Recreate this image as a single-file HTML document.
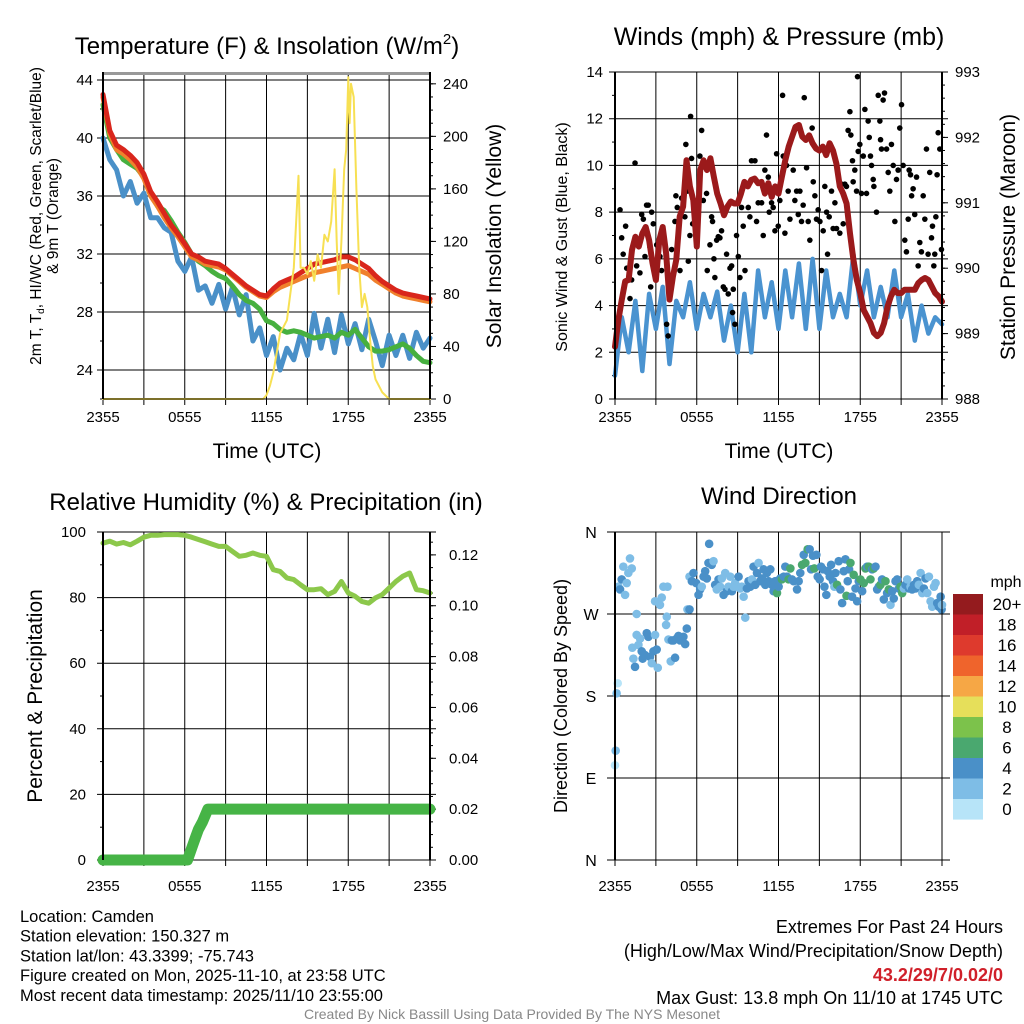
<!DOCTYPE html>
<html><head><meta charset="utf-8">
<style>
html,body{margin:0;padding:0;background:#fff;}
svg{display:block;font-family:"Liberation Sans",Arial,sans-serif;}
</style></head>
<body>
<svg id="fig" width="1024" height="1024" viewBox="0 0 1024 1024" xmlns="http://www.w3.org/2000/svg"></svg>
<script>
// ---------- DATA ----------
const tempRed = [43.0,40.5,39.5,39.2,38.8,38.3,37.5,36.3,35.6,34.8,34.0,33.4,32.7,32.0,31.8,31.5,31.4,31.3,31.0,30.6,30.2,29.8,29.5,29.2,29.1,29.6,30.0,30.2,30.4,30.7,31.0,31.3,31.4,31.5,31.6,31.8,31.8,31.6,31.3,31.0,30.5,30.1,29.8,29.5,29.3,29.2,29.1,29.0,28.9];
const tempOrange = [42.8,40.3,39.2,38.9,38.5,38.0,37.2,36.0,35.3,34.5,33.8,33.2,32.5,31.8,31.6,31.3,31.2,31.1,30.9,30.5,30.1,29.7,29.4,29.1,29.0,29.4,29.7,29.9,30.1,30.3,30.5,30.7,30.8,30.9,31.0,31.1,31.2,31.0,30.8,30.6,30.2,29.9,29.6,29.3,29.1,29.0,28.9,28.8,28.7];
const tempGreen = [42.3,40.0,39.2,38.5,38.2,37.9,37.3,36.2,35.3,35.0,34.3,33.5,32.8,32.0,31.5,31.2,30.8,30.5,30.3,29.8,29.2,28.8,28.6,28.2,27.4,27.2,26.8,26.6,26.7,26.6,26.4,26.2,26.3,26.4,26.2,26.6,26.4,26.8,26.2,25.6,25.3,25.3,25.4,25.6,25.8,25.5,25.0,24.6,24.5];
const tempBlue = [40.0,38.5,37.8,36.0,37.0,35.5,36.2,34.5,34.5,33.8,33.5,31.5,30.8,31.8,29.5,29.8,28.6,29.9,28.2,29.7,27.8,29.2,26.0,26.9,25.0,26.3,24.0,25.5,24.7,26.5,25.0,27.9,25.5,27.5,25.2,27.8,25.8,27.2,25.4,27.5,26.0,24.3,26.4,25.0,26.4,24.8,26.6,25.5,26.2];
const solarTimes = [0,11.75,12,12.25,12.5,12.75,13,13.25,13.5,13.75,14,14.2,14.35,14.5,14.75,15,15.25,15.5,15.75,16,16.25,16.5,16.75,17,17.15,17.3,17.5,17.7,17.85,18,18.1,18.2,18.4,18.6,18.8,19,19.2,19.4,19.6,19.8,20,20.5,21,24];
const solarValues = [0,0,3,10,20,35,50,55,60,80,100,140,170,100,100,95,105,90,110,100,125,120,135,175,120,80,120,175,190,245,210,240,230,160,100,70,80,70,45,25,15,5,0,0];
const tempTicks = [24,28,32,36,40,44];
const solarTicks = [0,40,80,120,160,200,240];
const timeLabels = ["2355","0555","1155","1755","2355"];

const pressure = [988.80,989.21,989.52,989.80,989.82,990.28,990.48,990.33,990.53,990.63,990.43,990.08,989.82,990.43,990.63,990.23,989.52,989.87,990.13,990.79,990.94,991.65,991.25,991.04,990.33,991.50,991.65,991.50,991.68,991.40,991.14,990.99,990.81,990.94,991.02,990.99,990.99,991.14,991.32,991.25,991.35,991.37,991.30,991.32,991.14,991.30,991.09,991.25,991.14,991.40,991.65,991.86,992.01,992.16,992.19,992.01,991.96,992.03,991.91,991.83,991.80,991.86,991.73,991.91,991.80,991.60,991.25,991.14,990.99,990.53,990.13,989.82,989.62,989.36,989.26,989.16,989.01,988.96,989.01,989.16,989.41,989.57,989.67,989.62,989.62,989.67,989.67,989.67,989.67,989.77,989.82,989.85,989.82,989.72,989.62,989.57,989.49];
const windSpeed = [1.0,3.5,2.0,4.2,1.2,4.5,3.0,4.8,1.5,4.2,3.5,5.0,3.0,4.5,3.5,4.6,2.5,4.0,2.0,4.5,2.0,5.5,3.5,5.0,3.0,5.5,3.5,5.8,3.0,6.0,3.0,5.5,3.5,4.5,3.5,6.2,4.0,5.5,3.5,4.8,3.5,5.5,3.5,4.5,2.5,4.0,2.8,3.5,3.2];
const gustTimes = [0.37,0.49,0.6,0.78,0.86,1.1,1.22,1.47,1.59,1.83,1.96,2.08,2.2,2.32,2.44,2.57,2.69,2.62,2.81,3.06,3.3,3.42,3.79,3.9,4.03,4.16,4.4,4.47,4.57,4.77,4.89,5.13,5.2,5.3,5.38,5.5,5.55,5.62,5.7,6.23,6.36,6.48,6.72,6.77,6.97,7.09,7.16,7.26,7.33,7.46,7.58,7.7,7.82,7.95,8.07,8.19,8.31,8.44,8.56,8.68,8.63,8.8,8.92,9.05,9.17,9.29,9.41,9.54,9.78,9.9,10.02,10.27,10.39,10.51,10.76,10.88,11,11.12,11.25,11.32,11.49,11.61,11.74,11.86,11.98,12.1,12.3,12.35,12.47,12.59,12.71,12.84,13.08,13.2,13.33,13.45,13.57,13.69,13.81,13.89,14.06,14.18,14.3,14.47,14.55,14.67,14.79,14.91,15.04,15.16,15.28,15.4,15.53,15.6,15.72,15.89,16.01,16.14,16.26,16.5,16.63,16.75,16.87,16.99,17.11,17.24,17.31,17.43,17.48,17.6,17.73,17.8,17.85,17.97,18.09,18.22,18.34,18.46,18.58,18.66,18.75,18.83,18.95,19,19.19,19.32,19.44,19.49,19.56,19.68,19.78,19.93,20.05,20.17,20.29,20.42,20.54,20.66,20.78,20.9,21.03,21.15,21.27,21.39,21.52,21.59,21.69,21.77,21.88,22,22.13,22.25,22.37,22.49,22.62,22.74,22.86,22.98,23.1,23.23,23.3,23.4,23.47,23.55,23.64,23.72,23.84,23.96];
const gustValues = [8.1,6.9,6.2,7.4,5.6,4.3,5.1,10.1,5.7,5.4,7.9,7.7,6.1,8.3,8.3,6.5,8.0,4.8,7.5,6.6,6.1,5.5,3.2,2.7,4.8,6.4,7.6,8.7,8.2,5.5,8.6,7.8,10.9,8.9,5.9,7.0,12.1,10.3,7.5,10.4,11.5,8.5,8.8,5.5,6.6,7.8,7.6,6.0,5.2,6.8,6.95,6.9,7.2,4.8,4.7,6.2,4.5,5.6,5.7,4.7,3.7,3.2,7.0,6.1,5.2,8.2,7.4,5.5,8.2,7.8,10.2,10.2,7.6,8.4,8.4,7.0,9.8,11.3,9.5,8.0,8.4,8.2,7.2,10.5,7.4,8.5,13.0,10.4,7.1,10.0,8.9,7.7,9.8,8.5,8.9,7.9,8.9,7.6,8.3,12.9,9.9,7.6,6.8,11.6,9.3,8.7,7.7,8.1,7.6,5.5,7.2,9.1,8.0,6.2,7.8,8.9,7.3,8.4,7.3,7.1,9.2,7.5,9.2,9.1,11.5,12.3,11.3,10.2,9.3,9.8,8.9,13.8,10.6,10.9,8.8,10.4,12.4,8.8,11.9,11.2,10.4,10.0,9.4,9.1,8.0,13.0,11.9,11.1,10.7,12.8,13.1,10.7,9.7,8.9,10.9,10.0,7.6,9.4,9.8,11.6,12.6,10.0,6.8,6.3,7.7,9.8,9.6,8.7,9.0,7.9,9.5,5.7,6.7,6.3,8.7,7.7,10.7,6.2,9.7,6.9,7.4,5.7,6.2,7.8,9.6,11.4,10.7,6.4];
const windTicks = [0,2,4,6,8,10,12,14];
const pressTicks = [988,989,990,991,992,993];

const rhValues = [96.6,97.2,96.3,96.8,96.1,97.2,98.4,99.0,99.0,99.2,99.2,99.2,99.0,98.4,97.7,97.0,96.3,95.6,95.6,94.1,92.6,92.9,93.6,92.9,92.6,88.5,88.0,86.0,85.5,83.9,82.4,82.4,82.7,80.9,81.9,84.9,81.4,80.4,78.8,78.3,79.9,80.9,82.9,84.9,86.5,87.5,82.4,82.1,81.4];
const precipTimes = [0,6.2,6.4,6.6,6.8,7.0,7.3,7.7,24];
const precipValues = [0,0,0.003,0.006,0.009,0.012,0.015,0.02,0.02];
const rhTicks = [0,20,40,60,80,100];
const precipTicks = ["0.00","0.02","0.04","0.06","0.08","0.10","0.12"];

const dirTimes = [0,0.05,0.2,0.12,0.25,0.37,0.49,0.61,0.74,0.86,0.98,1.1,1.23,1.47,1.35,1.27,1.59,1.59,1.72,1.84,1.96,2.03,2.2,2.33,2.45,2.57,2.7,2.82,2.94,3.06,3.14,2.94,3.3,3.43,3.55,3.85,3.75,3.8,3.92,4.09,4.17,4.29,4.41,4.53,4.66,4.78,4.9,5.02,5.15,5.27,5.32,5.47,5.47,5.64,5.76,5.96,6.13,6.25,6.37,6.5,6.62,6.74,6.86,6.91,7.1,7.23,7.35,7.47,7.6,7.72,7.84,7.97,8.09,8.21,8.33,8.46,8.58,8.7,8.82,8.95,9.07,9.19,9.31,9.44,9.56,9.68,9.8,9.93,10.05,10.17,10.29,10.42,10.54,10.66,10.78,10.91,11.03,11.15,11.27,11.4,11.52,11.64,11.76,11.89,12.01,12.13,12.25,12.38,12.5,12.62,12.74,12.87,12.99,13.11,13.36,13.48,13.6,13.73,13.85,13.97,14.14,14.29,14.39,14.53,14.63,14.78,14.88,15.02,15.12,15.27,15.37,15.51,15.61,15.76,15.86,16.0,16.1,16.18,16.3,16.42,16.54,16.67,16.79,16.91,16.99,17.08,17.18,17.28,17.4,17.52,17.65,17.77,17.89,18.01,18.14,18.26,18.38,18.5,18.63,18.75,18.87,18.99,19.12,19.24,19.36,19.48,19.6,19.73,19.85,19.97,20.1,20.22,20.34,20.46,20.59,20.71,20.83,20.96,21.08,21.2,21.32,21.45,21.57,21.69,21.81,21.94,22.06,22.18,22.3,22.43,22.55,22.67,22.79,22.92,23.04,23.16,23.28,23.41,23.53,23.65,23.77,23.9,23.97,24];
const dirValues = [104,120,194,183,300,297,308,322,291,304,315,331,320,212,221,233,270,247,236,243,229,221,225,249,245,223,216,229,247,231,211,284,280,288,300,300,258,267,242,218,241,241,222,243,246,241,243,245,237,254,275,275,311,306,315,304,291,297,300,311,317,309,326,347,324,328,302,297,308,300,309,291,315,295,300,311,295,300,304,300,311,298,300,289,266,298,306,300,308,322,302,315,326,306,309,319,302,315,306,319,302,295,306,293,300,309,308,311,322,311,308,320,308,306,297,306,315,324,335,326,341,341,319,334,320,335,311,308,322,319,300,291,317,311,324,306,300,315,302,328,297,282,317,330,290,306,319,326,289,313,298,284,306,308,295,304,320,322,322,308,319,320,322,297,300,302,308,286,306,293,297,280,295,287,306,308,298,300,293,298,302,308,298,300,297,302,298,306,302,315,293,298,309,293,311,284,278,300,304,282,278,289,275,280];
const dirSpeeds = [0.5,2.5,0.5,2.5,2.5,4.5,4.5,2.5,2.5,2.5,2.5,2.5,2.5,4.5,2.5,2.5,2.5,2.5,2.5,2.5,4.5,4.5,4.5,4.5,4.5,4.5,2.5,4.5,2.5,4.5,2.5,2.5,2.5,2.5,2.5,2.5,2.5,2.5,2.5,2.5,4.5,4.5,4.5,4.5,4.5,4.5,4.5,4.5,4.5,4.5,2.5,4.5,2.5,4.5,4.5,4.5,4.5,4.5,2.5,4.5,4.5,4.5,4.5,4.5,4.5,2.5,4.5,2.5,4.5,2.5,2.5,4.5,2.5,4.5,2.5,2.5,4.5,2.5,2.5,2.5,4.5,2.5,2.5,2.5,2.5,4.5,4.5,4.5,2.5,4.5,4.5,4.5,2.5,4.5,4.5,4.5,4.5,4.5,4.5,4.5,4.5,4.5,4.5,6.5,4.5,4.5,6.5,4.5,4.5,4.5,6.5,6.5,4.5,4.5,4.5,4.5,4.5,6.5,4.5,6.5,6.5,4.5,4.5,4.5,6.5,4.5,4.5,4.5,4.5,4.5,4.5,4.5,4.5,4.5,4.5,4.5,2.5,4.5,6.5,4.5,4.5,4.5,4.5,4.5,6.5,4.5,4.5,6.5,4.5,6.5,4.5,4.5,4.5,6.5,4.5,6.5,6.5,4.5,6.5,6.5,4.5,6.5,4.5,4.5,4.5,6.5,4.5,4.5,6.5,4.5,6.5,2.5,4.5,4.5,4.5,4.5,4.5,6.5,6.5,2.5,4.5,2.5,4.5,2.5,4.5,4.5,4.5,4.5,2.5,2.5,2.5,4.5,4.5,2.5,2.5,2.5,2.5,2.5,2.5,4.5,4.5,4.5,4.5,2.5];
const dirTicks = ["N","E","S","W","N"];
const cbLabels = ["20+","18","16","14","12","10","8","6","4","2","0"];
const cbColors = ["#941b1e","#c11f28","#de3a2d","#ef642c","#f6a745","#e6df5a","#7cc24b","#4aa86f","#4a90c8","#7ebde6","#b7e4f8"];

// ---------- HELPERS ----------
const NS="http://www.w3.org/2000/svg";
const svg=document.getElementById('fig');
function mk(tag,attrs,parent,text){const e=document.createElementNS(NS,tag);for(const k in attrs)e.setAttribute(k,attrs[k]);if(text!==undefined)e.textContent=text;(parent||svg).appendChild(e);return e;}
function lin(d0,d1,r0,r1){return v=>r0+(v-d0)*(r1-r0)/(d1-d0);}
function halfTimes(n,step){const a=[];for(let i=0;i<n;i++)a.push(i*step);return a;}
function poly(xs,ys,fx,fy,color,w,parent,name){
  const pts=xs.map((t,i)=>fx(t).toFixed(1)+','+fy(ys[i]).toFixed(1)).join(' ');
  const p=mk('polyline',{points:pts,fill:'none',stroke:color,'stroke-width':w,'stroke-linejoin':'round','stroke-linecap':'round'},parent);
  
  
  return p;
}
function txt(x,y,s,size,anchor,parent,name,extra){
  const t=mk('text',Object.assign({x:x,y:y,'font-size':size,'text-anchor':anchor||'middle',fill:'#000'},extra||{}),parent,s);
  
  
  return t;
}
function frame(g,L,R,T,B,lblDy){
  for(let i=0;i<=8;i++){const x=L+i*(R-L)/8;
    const l=mk('line',{x1:x,x2:x,y1:T,y2:B+6,stroke:'#000','stroke-width':1},g);
    }
  timeLabels.forEach((s,i)=>txt(L+i*(R-L)/4,B+lblDy,s,15,'middle',g,'x-tick-label'));
}
const TX=(L,R)=>lin(0,24,L,R);

// ---------- PANEL 1 ----------
(function(){
  const g=mk('g',{});
  const L=103,R=430,T=72,B=399;
  const fx=TX(L,R), fy=lin(22,44.55,B,T), fs=lin(0,249,B,T);
  txt(267,54,'',24,'middle',g,'temperature-title').innerHTML='Temperature (F) &amp; Insolation (W/m<tspan font-size="15" dy="-10">2</tspan><tspan dy="10">)</tspan>';
  frame(g,L,R,T,B,23);
  tempTicks.forEach(v=>{const y=fy(v);const l=mk('line',{x1:L-6,x2:R,y1:y,y2:y,stroke:'#000','stroke-width':1},g);
    txt(L-10,y+5,String(v),15,'end',g,'y-tick-label');});
  for(let v=22;v<=44;v+=2){const y=fy(v);mk('line',{x1:L-3,x2:L,y1:y,y2:y,stroke:'#000'},g);}
  solarTicks.forEach(v=>{const y=fs(v);mk('line',{x1:R,x2:R+6,y1:y,y2:y,stroke:'#000'},g);txt(R+13,y+5,String(v),15,'start',g,'y2-tick-label');});
  for(let v=0;v<=240;v+=10){const y=fs(v);mk('line',{x1:R,x2:R+3,y1:y,y2:y,stroke:'#000'},g);}
  mk('line',{x1:L,x2:R,y1:73.5,y2:73.5,stroke:'#999','stroke-width':3},g);
  const th=halfTimes(49,0.5);
  poly(th,tempBlue,fx,fy,'#4a90c8',5,g,'wind-chill-line');
  poly(th,tempGreen,fx,fy,'#47b03f',5,g,'dewpoint-line');
  poly(th,tempOrange,fx,fy,'#f0802c',5,g,'9m-temp-line');
  poly(th,tempRed,fx,fy,'#d9261c',5,g,'2m-temp-line');
  poly(solarTimes,solarValues,fx,fs,'#f7e053',2,g,'solar-line');
  mk('line',{x1:L,x2:L,y1:T,y2:B,stroke:'#000','stroke-width':2},g);
  mk('line',{x1:R,x2:R,y1:T,y2:B,stroke:'#000','stroke-width':2},g);
  mk('line',{x1:L,x2:R,y1:B,y2:B,stroke:'#000','stroke-width':1},g);
  txt(267,458,'Time (UTC)',21,'middle',g,'x-axis-title');
  const yt=txt(0,0,'',15.5,'middle',g,'y-axis-title',{transform:'translate(41,216) rotate(-90)'});
  yt.innerHTML='2m T, T<tspan font-size="10" dy="3">d</tspan><tspan dy="-3">, HI/WC (Red, Green, Scarlet/Blue)</tspan>';
  txt(0,0,'& 9m T (Orange)',15.5,'middle',g,'y-axis-title-2',{transform:'translate(58,216) rotate(-90)'});
  txt(0,0,'Solar Insolation (Yellow)',21,'middle',g,'y2-axis-title',{transform:'translate(501,236) rotate(-90)'});
})();

// ---------- PANEL 2 ----------
(function(){
  const g=mk('g',{});
  const L=615,R=942,T=72,B=399;
  const fx=TX(L,R), fy=lin(0,14,B,T), fp=lin(988,993,B,T);
  txt(779,45,'Winds (mph) & Pressure (mb)',25,'middle',g,'winds-title');
  frame(g,L,R,T,B,23);
  windTicks.forEach(v=>{const y=fy(v);mk('line',{x1:L-6,x2:R+6,y1:y,y2:y,stroke:'#000'},g);txt(L-12,y+5,String(v),15,'end',g,'y-tick-label');});
  for(let v=1;v<14;v+=2){const y=fy(v);mk('line',{x1:L-3,x2:L,y1:y,y2:y,stroke:'#000'},g);}
  pressTicks.forEach(v=>{const y=fp(v);mk('line',{x1:R,x2:R+6,y1:y,y2:y,stroke:'#000'},g);txt(R+13,y+5,String(v),15,'start',g,'y2-tick-label');});
  for(let v=988;v<993;v+=0.2){const y=fp(v);mk('line',{x1:R,x2:R+3,y1:y,y2:y,stroke:'#000'},g);}
  poly(halfTimes(49,0.5),windSpeed,fx,fy,'#4a93d0',4.5,g,'wind-speed-line');
  gustTimes.forEach((t,i)=>{const c=mk('circle',{cx:fx(t),cy:fy(gustValues[i]),r:2.8,fill:'#000'},g);
    });
  poly(halfTimes(97,0.25),pressure,fx,fp,'#9b1a1b',6,g,'pressure-line');
  mk('line',{x1:L,x2:L,y1:T,y2:B,stroke:'#000','stroke-width':2},g);
  mk('line',{x1:R,x2:R,y1:T,y2:B,stroke:'#000','stroke-width':2},g);
  txt(779,458,'Time (UTC)',21,'middle',g,'x-axis-title');
  txt(0,0,'Sonic Wind & Gust (Blue, Black)',16,'middle',g,'y-axis-title',{transform:'translate(567,237) rotate(-90)'});
  txt(0,0,'Station Pressure (Maroon)',21,'middle',g,'y2-axis-title',{transform:'translate(1015,237) rotate(-90)'});
})();

// ---------- PANEL 3 ----------
(function(){
  const g=mk('g',{});
  const L=103,R=430,T=532,B=860;
  const fx=TX(L,R), fy=lin(0,100,B,T), fp=lin(0,0.129,B,T);
  txt(266,510,'Relative Humidity (%) & Precipitation (in)',24,'middle',g,'humidity-title');
  frame(g,L,R,T,B,31);
  rhTicks.forEach(v=>{const y=fy(v);mk('line',{x1:L-6,x2:R+6,y1:y,y2:y,stroke:'#000'},g);txt(L-17,y+5,String(v),15,'end',g,'y-tick-label');});
  for(let v=10;v<100;v+=20){const y=fy(v);mk('line',{x1:L-3,x2:L,y1:y,y2:y,stroke:'#000'},g);}
  precipTicks.forEach(s=>{const y=fp(parseFloat(s));mk('line',{x1:R,x2:R+6,y1:y,y2:y,stroke:'#000'},g);txt(R+19,y+5,s,15,'start',g,'y2-tick-label');});
  for(let v=0.005;v<0.129;v+=0.005){const y=fp(v);mk('line',{x1:R,x2:R+3,y1:y,y2:y,stroke:'#000'},g);}
  poly(halfTimes(49,0.5),rhValues,fx,fy,'#8cc84b',5,g,'humidity-line');
  poly(precipTimes,precipValues,fx,fp,'#46b446',11,g,'precip-line');
  mk('line',{x1:L,x2:L,y1:T,y2:B,stroke:'#000','stroke-width':2},g);
  mk('line',{x1:R,x2:R,y1:T,y2:B,stroke:'#000','stroke-width':2},g);
  txt(0,0,'Percent & Precipitation',21,'middle',g,'y-axis-title',{transform:'translate(42,696) rotate(-90)'});
})();

// ---------- PANEL 4 ----------
(function(){
  const g=mk('g',{});
  const L=615,R=942,T=532,B=860;
  const fx=TX(L,R), fy=lin(0,360,B,T);
  txt(779,504,'Wind Direction',24,'middle',g,'direction-title');
  frame(g,L,R,T,B,31);
  dirTicks.forEach((s,i)=>{const y=fy(i*90);mk('line',{x1:L-8,x2:R+8,y1:y,y2:y,stroke:'#000'},g);txt(591,y+6,s,16,'middle',g,'y-tick-label');});
  function col(s){const idx=Math.min(10,Math.floor(s/2));return cbColors[10-idx];}
  dirTimes.forEach((t,i)=>{const c=mk('circle',{cx:fx(t),cy:fy(dirValues[i]),r:4.3,fill:col(dirSpeeds[i])},g);
    });
  mk('line',{x1:L,x2:L,y1:T,y2:B,stroke:'#000','stroke-width':2},g);
  mk('line',{x1:R,x2:R,y1:T,y2:B+6,stroke:'#000','stroke-width':1},g);
  txt(0,0,'Direction (Colored By Speed)',18,'middle',g,'y-axis-title',{transform:'translate(567,696) rotate(-90)'});
  const lg=mk('g',{},g);
  txt(1006,587,'mph',16,'middle',lg,'colorbar-title');
  cbColors.forEach((c,i)=>{const y=594+i*20.5;const r=mk('rect',{x:953,y:y,width:30,height:20.6,fill:c},lg);
    
    txt(1007,y+16,cbLabels[i],17,'middle',lg,'colorbar-label');});
})();

// ---------- FOOTER ----------
(function(){
  const g=mk('g',{});
  const lines=["Location: Camden","Station elevation: 150.327 m","Station lat/lon: 43.3399; -75.743","Figure created on Mon, 2025-11-10, at 23:58 UTC","Most recent data timestamp: 2025/11/10 23:55:00"];
  lines.forEach((s,i)=>txt(20,922+i*19.7,s,16.5,'start',g,'station-info-line'));
  txt(1003,933,'Extremes For Past 24 Hours',18,'end',g,'extremes-heading');
  txt(1003,957,'(High/Low/Max Wind/Precipitation/Snow Depth)',18,'end',g,'extremes-subheading');
  txt(1003,981,'43.2/29/7/0.02/0',18,'end',g,'extremes-values',{fill:'#d0202a','font-weight':'bold'});
  txt(1003,1004,'Max Gust: 13.8 mph On 11/10 at 1745 UTC',18,'end',g,'max-gust-text');
  txt(512,1019,'Created By Nick Bassill Using Data Provided By The NYS Mesonet',14,'middle',g,'credit-text',{fill:'#888'});
})();
</script>
</body></html>
